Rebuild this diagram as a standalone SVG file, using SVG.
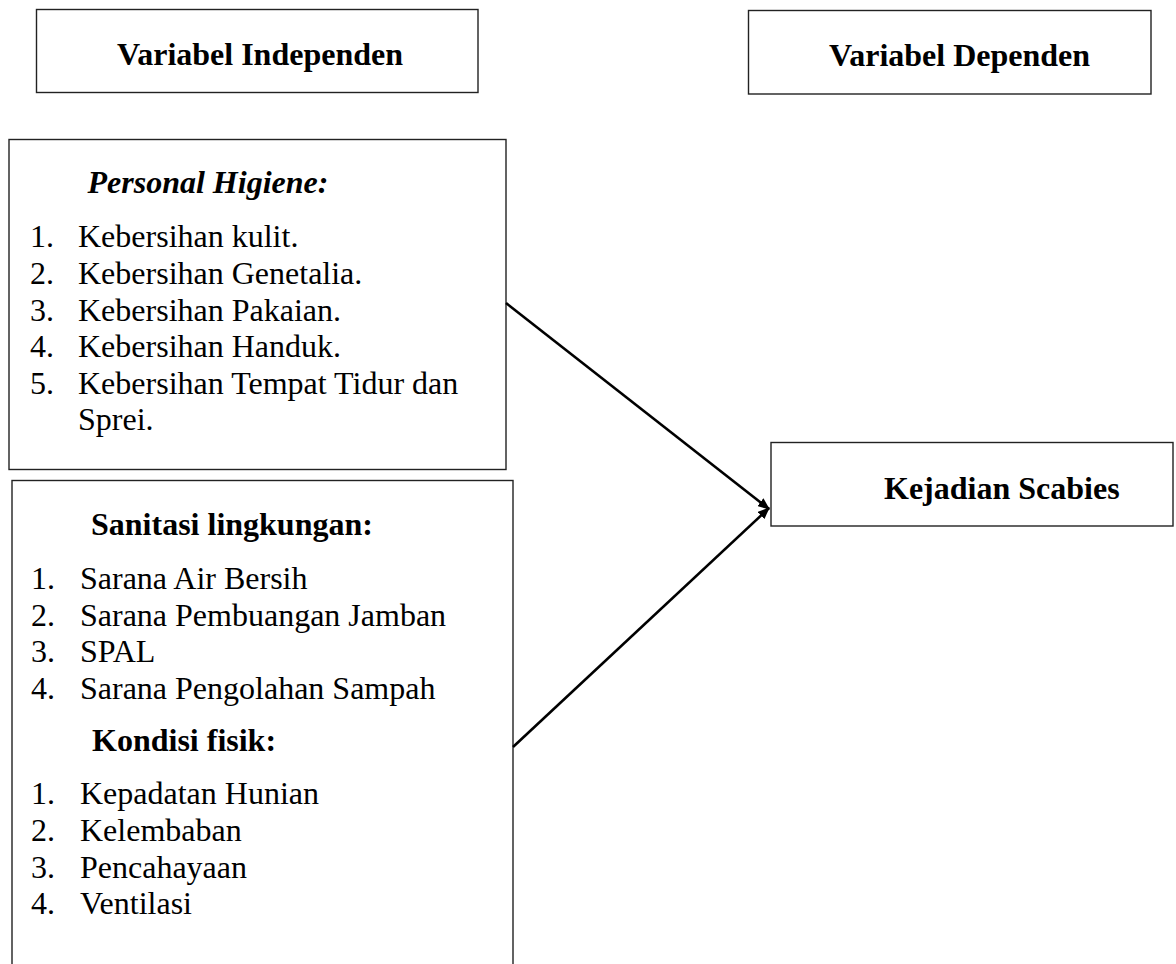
<svg xmlns="http://www.w3.org/2000/svg" width="1176" height="964" viewBox="0 0 1176 964">
<style>
.box{fill:#fff;stroke:#222;stroke-width:1.4}
.t{font-family:"Liberation Serif","Times New Roman",serif;font-size:32px;fill:#000}
.b{font-weight:bold}
.bi{font-weight:bold;font-style:italic}
.con{stroke:#000;stroke-width:2.6;fill:none}
</style>
<defs>
<marker id="ah" viewBox="0 0 12 10" refX="11" refY="5" markerWidth="12" markerHeight="10" markerUnits="userSpaceOnUse" orient="auto">
<path d="M0,0 L12,5 L0,10 z" fill="#000"/>
</marker>
</defs>
<rect width="1176" height="964" fill="#fff"/>
<g id="var-independen">
<rect class="box" x="36.5" y="9.5" width="441.5" height="83"/>
<text class="t b" x="117" y="65">Variabel Independen</text>
</g>
<g id="var-dependen">
<rect class="box" x="748.5" y="10.5" width="402.5" height="83.5"/>
<text class="t b" x="829" y="66">Variabel Dependen</text>
</g>
<g id="personal-higiene">
<rect class="box" x="9" y="139.5" width="497" height="330"/>
<text class="t bi" x="87.5" y="193">Personal Higiene:</text>
<text class="t" x="30" y="247">1.</text><text class="t" x="78" y="247">Kebersihan kulit.</text>
<text class="t" x="30" y="284">2.</text><text class="t" x="78" y="284">Kebersihan Genetalia.</text>
<text class="t" x="30" y="320.5">3.</text><text class="t" x="78" y="320.5">Kebersihan Pakaian.</text>
<text class="t" x="30" y="357">4.</text><text class="t" x="78" y="357">Kebersihan Handuk.</text>
<text class="t" x="30" y="393.5">5.</text><text class="t" x="78" y="393.5">Kebersihan Tempat Tidur dan</text>
<text class="t" x="78" y="430">Sprei.</text>
</g>
<g id="sanitasi-kondisi">
<rect class="box" x="12" y="480.5" width="501" height="520"/>
<text class="t b" x="91" y="535">Sanitasi lingkungan:</text>
<text class="t" x="31" y="589">1.</text><text class="t" x="80" y="589">Sarana Air Bersih</text>
<text class="t" x="31" y="625.5">2.</text><text class="t" x="80" y="625.5">Sarana Pembuangan Jamban</text>
<text class="t" x="31" y="662">3.</text><text class="t" x="80" y="662">SPAL</text>
<text class="t" x="31" y="699">4.</text><text class="t" x="80" y="699">Sarana Pengolahan Sampah</text>
<text class="t b" x="92" y="751">Kondisi fisik:</text>
<text class="t" x="31" y="804">1.</text><text class="t" x="80" y="804">Kepadatan Hunian</text>
<text class="t" x="31" y="841">2.</text><text class="t" x="80" y="841">Kelembaban</text>
<text class="t" x="31" y="877.5">3.</text><text class="t" x="80" y="877.5">Pencahayaan</text>
<text class="t" x="31" y="914">4.</text><text class="t" x="80" y="914">Ventilasi</text>
</g>
<g id="kejadian-scabies">
<rect class="box" x="771" y="442.5" width="402" height="83.5"/>
<text class="t b" x="884" y="498.5">Kejadian Scabies</text>
</g>
<g id="connectors">
<line class="con" x1="506" y1="303" x2="769" y2="509" marker-end="url(#ah)"/>
<line class="con" x1="513" y1="747" x2="769" y2="508" marker-end="url(#ah)"/>
</g>
</svg>
